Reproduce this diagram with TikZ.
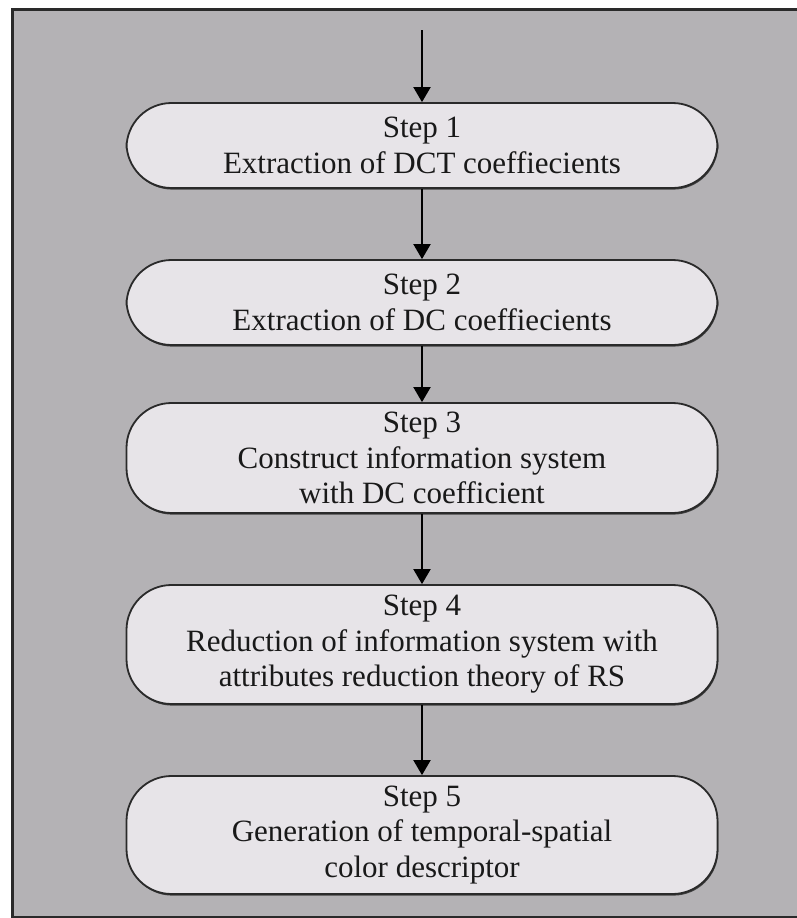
\documentclass[tikz,border=0pt]{standalone}
\usepackage{fontspec}
\setmainfont{Liberation Serif}
\usetikzlibrary{arrows.meta,shadows}
\definecolor{bggray}{HTML}{B4B2B5}
\definecolor{boxfill}{HTML}{E7E4E8}
\definecolor{edge}{HTML}{2A2A2A}
\tikzset{
  stepbox/.style={draw=edge, line width=1.8pt, fill=boxfill, rounded corners=45pt,
    minimum width=591pt, inner sep=0pt, align=center,
    font=\fontsize{31}{35.5}\selectfont, text=black!90,
    drop shadow={shadow xshift=0.8pt, shadow yshift=-1.6pt, fill=black!75, opacity=1}},
  flow/.style={line width=2pt, draw=black, -{Triangle[width=17pt,length=15pt]}}
}
\begin{document}
\begin{tikzpicture}[x=1pt,y=1pt]
\useasboundingbox (0,0) rectangle (796,-918);
\fill[white] (0,0) rectangle (796,-918);
\draw[fill=bggray, draw=edge, line width=3pt] (12,-9) rectangle (806,-917);
\coordinate (start) at (422,-30);
\node[stepbox, minimum height=85pt] (s1) at (422,-145.5) {Step 1\\Extraction of DCT coeffiecients};
\node[stepbox, minimum height=85pt] (s2) at (422,-302.5) {Step 2\\Extraction of DC coeffiecients};
\node[stepbox, minimum height=110pt] (s3) at (422,-458) {Step 3\\Construct information system\\with DC coefficient};
\node[stepbox, minimum height=119pt] (s4) at (422,-644.5) {Step 4\\Reduction of information system with\\attributes reduction theory of RS};
\node[stepbox, minimum height=118pt] (s5) at (422,-835) {Step 5\\Generation of temporal-spatial\\color descriptor};
\draw[flow] (start) -- (s1.north);
\draw[flow] (s1.south) -- (s2.north);
\draw[flow] (s2.south) -- (s3.north);
\draw[flow] (s3.south) -- (s4.north);
\draw[flow] (s4.south) -- (s5.north);
\end{tikzpicture}
\end{document}
